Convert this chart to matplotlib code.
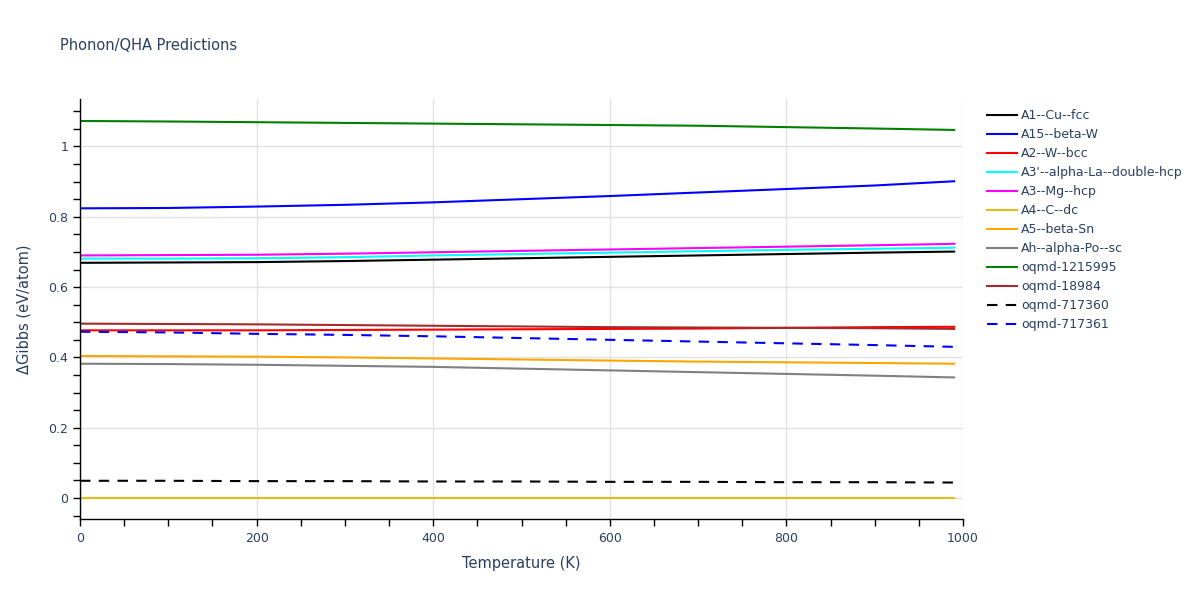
import numpy as np
import matplotlib
matplotlib.use("Agg")
import matplotlib.pyplot as plt
from matplotlib.ticker import MultipleLocator, FuncFormatter

# temperature grid the values were read at (K)
temps = [0, 100, 200, 300, 400, 500, 600, 700, 800, 900, 990]

a1_cu_fcc = [0.669, 0.670, 0.671, 0.674, 0.678, 0.682, 0.686, 0.690, 0.694, 0.698, 0.701]
a15_beta_w = [0.824, 0.825, 0.829, 0.834, 0.841, 0.850, 0.859, 0.869, 0.879, 0.889, 0.901]
a2_w_bcc = [0.477, 0.477, 0.477, 0.478, 0.479, 0.480, 0.481, 0.482, 0.484, 0.486, 0.487]
a3p_alpha_la = [0.681, 0.681, 0.682, 0.685, 0.690, 0.694, 0.698, 0.702, 0.706, 0.709, 0.712]
a3_mg_hcp = [0.690, 0.691, 0.692, 0.695, 0.699, 0.703, 0.707, 0.711, 0.715, 0.719, 0.723]
a4_c_dc = [0.0, 0.0, 0.0, 0.0, 0.0, 0.0, 0.0, 0.0, 0.0, 0.0, 0.0]
a5_beta_sn = [0.404, 0.403, 0.402, 0.400, 0.397, 0.394, 0.391, 0.388, 0.386, 0.384, 0.382]
ah_alpha_po = [0.382, 0.381, 0.379, 0.376, 0.373, 0.368, 0.363, 0.358, 0.353, 0.348, 0.343]
oqmd_1215995 = [1.0725, 1.071, 1.069, 1.067, 1.065, 1.063, 1.061, 1.059, 1.055, 1.051, 1.047]
oqmd_18984 = [0.496, 0.495, 0.494, 0.492, 0.490, 0.488, 0.486, 0.485, 0.484, 0.483, 0.481]
oqmd_717360 = [0.049, 0.049, 0.048, 0.048, 0.047, 0.047, 0.046, 0.046, 0.045, 0.045, 0.044]
oqmd_717361 = [0.473, 0.471, 0.467, 0.464, 0.460, 0.455, 0.450, 0.445, 0.440, 0.435, 0.430]

series = [
    ("A1--Cu--fcc", a1_cu_fcc, "black", "-"),
    ("A15--beta-W", a15_beta_w, "blue", "-"),
    ("A2--W--bcc", a2_w_bcc, "red", "-"),
    ("A3'--alpha-La--double-hcp", a3p_alpha_la, "cyan", "-"),
    ("A3--Mg--hcp", a3_mg_hcp, "magenta", "-"),
    ("A4--C--dc", a4_c_dc, "#e6bb1a", "-"),
    ("A5--beta-Sn", a5_beta_sn, "orange", "-"),
    ("Ah--alpha-Po--sc", ah_alpha_po, "gray", "-"),
    ("oqmd-1215995", oqmd_1215995, "green", "-"),
    ("oqmd-18984", oqmd_18984, "brown", "-"),
    ("oqmd-717360", oqmd_717360, "black", "--"),
    ("oqmd-717361", oqmd_717361, "blue", "--"),
]

txt = "#2a3f5f"
plt.rcParams['font.family'] = ['DejaVu Sans']

fig = plt.figure(figsize=(12, 6), dpi=100)
ax = fig.add_axes([80 / 1200, 1 - 519 / 600, 883 / 1200, 420 / 600])

for name, vals, col, ls in series:
    line, = ax.plot(temps, vals, color=col, lw=1.5, label=name, linestyle=ls)
    if ls == "--":
        line.set_dashes((5, 4))

ax.set_xlim(0, 1000)
ax.set_ylim(-0.0597, 1.135)
ax.xaxis.set_major_locator(MultipleLocator(200))
ax.xaxis.set_minor_locator(MultipleLocator(50))
ax.yaxis.set_major_locator(MultipleLocator(0.2))
ax.yaxis.set_minor_locator(MultipleLocator(0.05))
ax.yaxis.set_major_formatter(FuncFormatter(lambda v, p: f"{v:g}" if abs(v) > 1e-9 else "0"))

ax.grid(True, which="major", color="#e2e2e2", lw=1)
ax.set_axisbelow(True)
for s in ["top", "right"]:
    ax.spines[s].set_visible(False)
for s in ["left", "bottom"]:
    ax.spines[s].set_color("black")
    ax.spines[s].set_linewidth(1)
ax.tick_params(which="both", direction="out", color="black", length=5, width=1,
               labelcolor=txt, labelsize=9)
ax.tick_params(axis="x", pad=4)

ax.set_xlabel("Temperature (K)", color=txt, fontsize=10.5, labelpad=8)
ax.set_ylabel("ΔGibbs (eV/atom)", color=txt, fontsize=10.5, labelpad=12)
fig.text(60 / 1200, 1 - 45 / 600, "Phonon/QHA Predictions", color=txt, fontsize=10.5, va="center")

leg = fig.legend(loc="upper left", bbox_to_anchor=(982 / 1200, 1 - 104 / 600), frameon=False,
                 fontsize=9, labelspacing=0.48, handlelength=2.4, handletextpad=0.3,
                 borderaxespad=0)
for t in leg.get_texts():
    t.set_color(txt)

fig.savefig("out.png", dpi=100)
